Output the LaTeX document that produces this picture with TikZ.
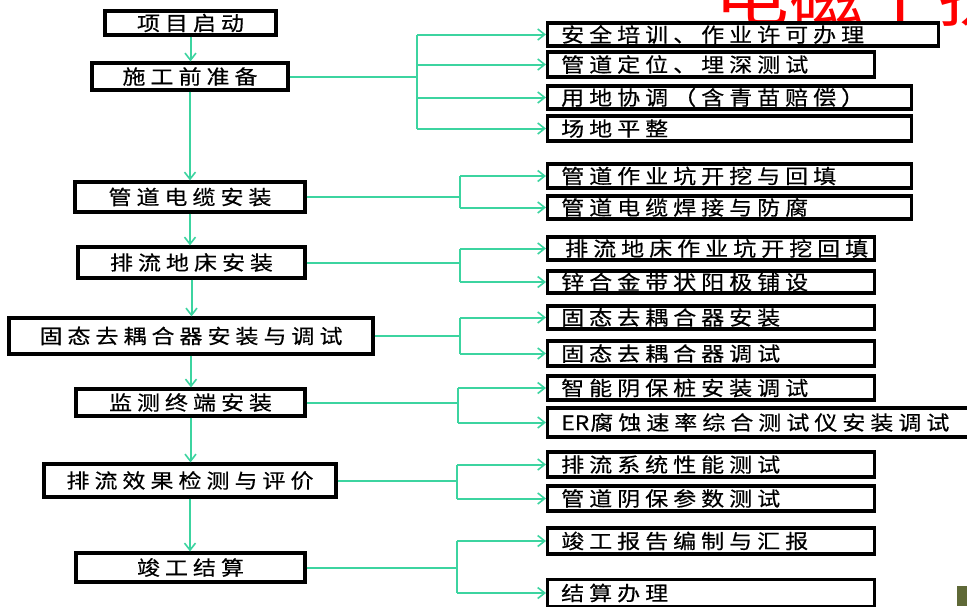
\documentclass[tikz,border=0pt]{standalone}
\usepackage{fontspec}
\newfontfamily\cjk{Noto Sans CJK SC}[FakeStretch=1.15, LetterSpace=25, FakeBold=0.4]
\newfontfamily\cjkplain{Noto Sans CJK SC}[FakeStretch=1.15, FakeBold=0.4]
\newfontfamily\cjkred{Noto Sans CJK SC}[FakeStretch=1.1]
\usetikzlibrary{arrows.meta}
\definecolor{flowgreen}{RGB}{60,212,160}
\definecolor{patchcol}{RGB}{95,105,55}
\begin{document}
\begin{tikzpicture}[x=1pt,y=-1pt,
  lbox/.style={draw=black, line width=3.2pt, fill=white, inner sep=0pt,
    font=\cjk\fontsize{20}{22}\selectfont},
  rbox/.style={draw=black, line width=3.2pt, fill=white, inner sep=0pt, anchor=west},
  rtxt/.style={anchor=west, inner sep=0pt, font=\cjk\fontsize{20}{22}\selectfont},
  flow/.style={draw=flowgreen, line width=2pt},
  arr/.style={flow, -{Straight Barb[length=7pt,width=11pt,line width=1.6pt]}}]
\useasboundingbox (0,0) rectangle (967,606);
\fill[white] (0,0) rectangle (967,606);
\begin{scope}
\clip (0,0) rectangle (967,606);

% partially visible red title
\node[anchor=base west, inner sep=0pt, text=red,
  font=\cjkred\fontsize{68}{76}\selectfont] (title) at (714,21) {电磁干扰};
% image fragment bottom right
\fill[patchcol] (957,586) rectangle (967,606);

% main column
\node[lbox, minimum width=171pt, minimum height=24pt] (s0) at (190.5,23) {项目启动};
\node[lbox, minimum width=196pt, minimum height=27pt] (s1) at (190,76.5) {施工前准备};
\node[lbox, minimum width=230pt, minimum height=30pt] (s2) at (190,197) {管道电缆安装};
\node[lbox, minimum width=227pt, minimum height=31pt] (s3) at (191.5,262.5) {排流地床安装};
\node[lbox, minimum width=364pt, minimum height=36pt] (s4) at (191,336) {固态去耦合器安装与调试};
\node[lbox, minimum width=229pt, minimum height=27pt] (s5) at (190.5,402.5) {监测终端安装};
\node[lbox, minimum width=292pt, minimum height=33pt] (s6) at (190,480.5) {排流效果检测与评价};
\node[lbox, minimum width=229pt, minimum height=29pt] (s7) at (190.5,567.5) {竣工结算};

% right boxes
\foreach \n/\y/\w/\h/\t in {
  r1/34.5/391/23/安全培训、作业许可办理,
  r2/64.5/327/25/管道定位、埋深测试,
  r3/97.5/364/23/用地协调（含青苗赔偿）,
  r4/128.5/364/25/场地平整,
  r5/176/364/24/管道作业坑开挖与回填,
  r6/207.5/364/23/管道电缆焊接与防腐,
  r7/248.5/327/23/\hspace{4pt}排流地床作业坑开挖回填,
  r8/282/327/22/锌合金带状阳极铺设,
  r9/317.5/327/23/固态去耦合器安装,
  r10/353.5/327/25/固态去耦合器调试,
  r11/388/327/24/智能阴保桩安装调试,
  r12/422.5/422/29/{{\cjkplain ER}\hspace{1pt}腐蚀速率综合测试仪安装调试},
  r13/464.5/327/25/排流系统性能测试,
  r14/498.5/327/25/管道阴保参数测试,
  r15/541/327/26/竣工报告编制与汇报,
  r16/593/327/27/结算办理}{
  \node[rbox, minimum width=\w pt, minimum height=\h pt] (\n) at (546,\y) {};
  \node[rtxt] (t\n) at ([xshift=15pt]\n.west) {\t};
}

% main flow arrows
\foreach \a/\b in {s0/s1,s1/s2,s2/s3,s3/s4,s4/s5,s5/s6,s6/s7}
  \draw[arr] (\a.south) -- (\a.south |- \b.north);

% branch points
\coordinate (b1) at (417,76.5);
\coordinate (b2) at (460,197);
\coordinate (b3) at (460,262.5);
\coordinate (b4) at (460,336);
\coordinate (b5) at (458,402.5);
\coordinate (b6) at (457,480.5);
\coordinate (b7) at (457,567.5);

\foreach \s/\b/\first/\last in {s1/b1/r1/r4, s2/b2/r5/r6, s3/b3/r7/r8,
  s4/b4/r9/r10, s5/b5/r11/r12, s6/b6/r13/r14, s7/b7/r15/r16}{
  \draw[flow] (\s.east) -- (\b);
  \draw[flow] (\b |- \first.west) -- (\b |- \last.west);
}
\foreach \b/\r in {b1/r1,b1/r2,b1/r3,b1/r4,b2/r5,b2/r6,b3/r7,b3/r8,
  b4/r9,b4/r10,b5/r11,b5/r12,b6/r13,b6/r14,b7/r15,b7/r16}
  \draw[arr] (\b |- \r.west) -- (\r.west);
\end{scope}
\end{tikzpicture}
\end{document}
